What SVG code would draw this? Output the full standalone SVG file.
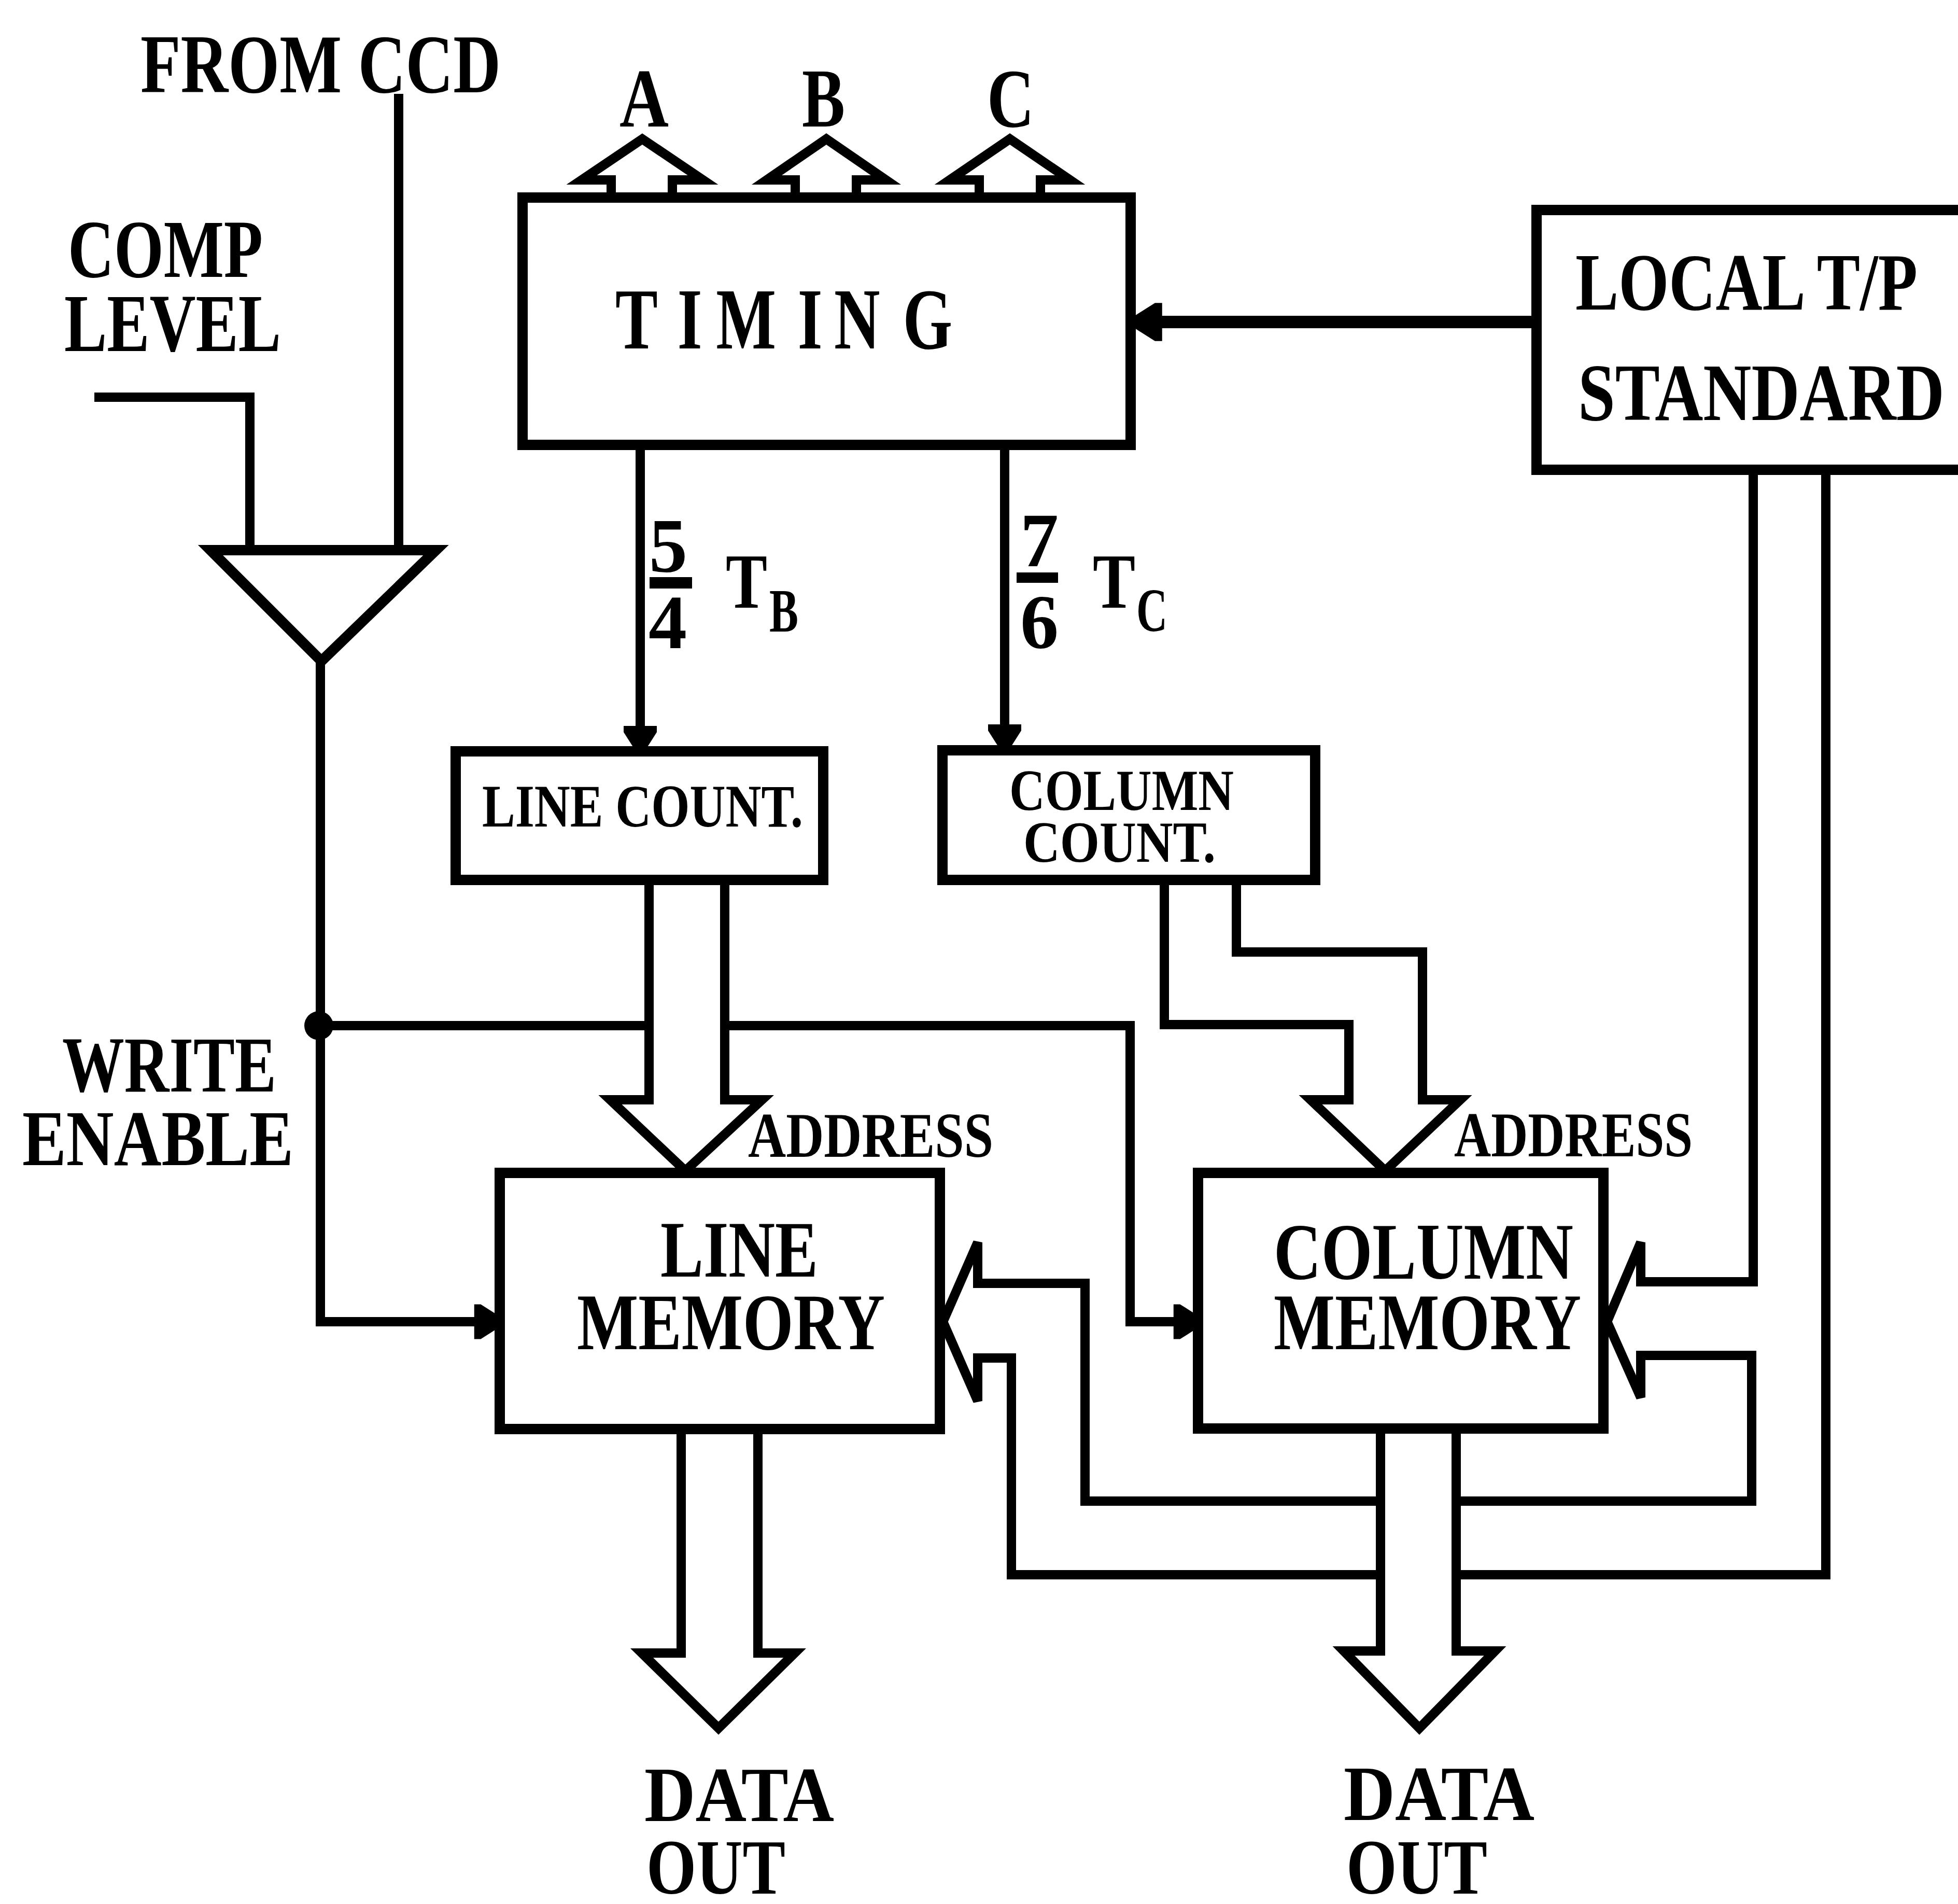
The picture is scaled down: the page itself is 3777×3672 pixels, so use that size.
<svg xmlns="http://www.w3.org/2000/svg" xmlns:xlink="http://www.w3.org/1999/xlink" width="3777" height="3672" viewBox="0 0 3777 3672">
<style>
  .box { fill: #fff; stroke: #000; stroke-width: 20; }
  .ln { fill: none; stroke: #000; stroke-width: 18; stroke-linejoin: miter; stroke-linecap: square; }
  .bus { fill: none; stroke: #000; stroke-width: 18; stroke-linejoin: miter; }
  .t { font-family: "Liberation Serif", "Times New Roman", serif; font-weight: bold; fill: #000; }
</style>
<defs>
  <path id="ahDown" d="M-32,-45 L32,-45 L32,-33 L11,0 L-11,0 L-32,-33 Z" fill="#000"/>
</defs>
<rect width="3777" height="3672" fill="#fff"/>

<g id="connectors">
  <!-- FROM CCD input -->
  <path class="ln" d="M769,190 V1061"/>
  <!-- COMP LEVEL input -->
  <path class="ln" d="M191,766 H482 V1061"/>
  <!-- write enable to line memory -->
  <path class="ln" d="M618,1275 V2549 H912"/>
  <use xlink:href="#ahDown" transform="translate(962,2549) rotate(-90) scale(1.05)"/>
  <circle cx="615" cy="1978" r="28" fill="#000"/>
  <!-- write enable branch to column memory -->
  <path class="ln" d="M618,1978 H1252"/>
  <path class="ln" d="M1398,1978 H2180 V2549 H2262"/>
  <use xlink:href="#ahDown" transform="translate(2311,2549) rotate(-90) scale(1.05)"/>
  <!-- local standard to timing -->
  <path d="M2964,621 H2235" fill="none" stroke="#000" stroke-width="24"/>
  <use xlink:href="#ahDown" transform="translate(2190,621) rotate(90) scale(1.15)"/>
  <!-- timing to counters -->
  <path class="ln" d="M1235,858 V1405"/>
  <use xlink:href="#ahDown" transform="translate(1235,1445)"/>
  <path class="ln" d="M1938,858 V1402"/>
  <use xlink:href="#ahDown" transform="translate(1938,1442)"/>
  <!-- A B C output buses -->
  <path class="bus" d="M1179,381 V347 H1122 L1239,268 L1356,347 H1297 V381"/>
  <path class="bus" d="M1534,381 V347 H1479 L1594,268 L1709,347 H1652 V381"/>
  <path class="bus" d="M1889,381 V347 H1832 L1948,268 L2064,347 H2007 V381"/>
  <!-- line count address bus -->
  <path class="bus" d="M1252,1697 V2121 H1177 L1322,2258 L1470,2121 H1398 V1697"/>
  <!-- column count address bus -->
  <path class="bus" d="M2246,1697 V1976 H2602 V2121 H2528 L2672,2258 L2817,2121 H2744 V1836 H2385 V1697"/>
  <!-- data out buses -->
  <path class="bus" d="M1314,2756 V3188 H1238 L1386,3333 L1533,3188 H1462 V2756"/>
  <path class="bus" d="M2663,2755 V3184 H2592 L2738,3333 L2884,3184 H2809 V2755"/>
  <!-- local standard bus to memories -->
  <path class="bus" d="M3522,906 V3037 H2809"/>
  <path class="bus" d="M2663,3037 H1951 V2619 H1886 V2702 L1819,2549 L1886,2396 V2475 H2093 V2895 H2663"/>
  <path class="bus" d="M2809,2895 H3379 V2614 H3165 V2695 L3100,2549 L3165,2396 V2472 H3382 V906"/>
</g>

<g id="comparator">
  <path d="M406,1061 H841 L620,1275 Z" fill="#fff" stroke="#000" stroke-width="20" stroke-linejoin="miter"/>
</g>

<g id="timing">
  <rect class="box" x="1008" y="381" width="1173" height="477"/>
  <text class="t" font-size="168" transform="translate(1187,672) scale(0.73,1)" x="0 164 266 482 578 760" y="0">TIMING</text>
  <text class="t" font-size="162" x="1195" y="244" textLength="95" lengthAdjust="spacingAndGlyphs">A</text>
  <text class="t" font-size="162" x="1547" y="244" textLength="83" lengthAdjust="spacingAndGlyphs">B</text>
  <text class="t" font-size="162" x="1904" y="244" textLength="91" lengthAdjust="spacingAndGlyphs">C</text>
</g>

<g id="local-standard">
  <path d="M3777,405 H2964 V906 H3777" fill="#fff" stroke="#000" stroke-width="20" stroke-linejoin="miter"/>
  <text class="t" font-size="157" x="3039" y="597" textLength="660" lengthAdjust="spacingAndGlyphs">LOCAL T/P</text>
  <text class="t" font-size="157" x="3044" y="810" textLength="707" lengthAdjust="spacingAndGlyphs">STANDARD</text>
</g>

<g id="line-count">
  <rect class="box" x="879" y="1449" width="709" height="248"/>
  <text class="t" font-size="116" x="930" y="1594" textLength="619" lengthAdjust="spacingAndGlyphs">LINE COUNT.</text>
</g>

<g id="column-count">
  <rect class="box" x="1818" y="1447" width="719" height="250"/>
  <text class="t" font-size="112" x="1947" y="1562" textLength="433" lengthAdjust="spacingAndGlyphs">COLUMN</text>
  <text class="t" font-size="112" x="1974" y="1662" textLength="371" lengthAdjust="spacingAndGlyphs">COUNT.</text>
</g>

<g id="line-memory">
  <rect class="box" x="964" y="2262" width="849" height="494"/>
  <text class="t" font-size="155" x="1274" y="2462" textLength="304" lengthAdjust="spacingAndGlyphs">LINE</text>
  <text class="t" font-size="155" x="1113" y="2602" textLength="594" lengthAdjust="spacingAndGlyphs">MEMORY</text>
</g>

<g id="column-memory">
  <rect class="box" x="2311" y="2262" width="782" height="493"/>
  <text class="t" font-size="155" x="2457" y="2466" textLength="578" lengthAdjust="spacingAndGlyphs">COLUMN</text>
  <text class="t" font-size="155" x="2457" y="2602" textLength="593" lengthAdjust="spacingAndGlyphs">MEMORY</text>
</g>

<g id="labels">
  <text class="t" font-size="162" x="271" y="178" textLength="695" lengthAdjust="spacingAndGlyphs">FROM CCD</text>
  <text class="t" font-size="159" x="131" y="534" textLength="376" lengthAdjust="spacingAndGlyphs">COMP</text>
  <text class="t" font-size="159" x="124" y="677" textLength="418" lengthAdjust="spacingAndGlyphs">LEVEL</text>
  <text class="t" font-size="153" x="120" y="2105" textLength="413" lengthAdjust="spacingAndGlyphs">WRITE</text>
  <text class="t" font-size="153" x="43" y="2247" textLength="523" lengthAdjust="spacingAndGlyphs">ENABLE</text>

  <text class="t" font-size="148" x="1289" y="1103" text-anchor="middle">5</text>
  <rect x="1253" y="1113" width="82" height="22" fill="#000"/>
  <text class="t" font-size="148" x="1288" y="1250" text-anchor="middle">4</text>
  <text class="t" font-size="151" x="1400" y="1172" textLength="80" lengthAdjust="spacingAndGlyphs">T</text>
  <text class="t" font-size="118" x="1484" y="1218" textLength="56" lengthAdjust="spacingAndGlyphs">B</text>

  <text class="t" font-size="148" x="2005" y="1092" text-anchor="middle">7</text>
  <rect x="1961" y="1104" width="80" height="20" fill="#000"/>
  <text class="t" font-size="148" x="2005" y="1250" text-anchor="middle">6</text>
  <text class="t" font-size="151" x="2108" y="1172" textLength="82" lengthAdjust="spacingAndGlyphs">T</text>
  <text class="t" font-size="118" x="2192" y="1217" textLength="60" lengthAdjust="spacingAndGlyphs">C</text>

  <text class="t" font-size="122" x="1443" y="2231" textLength="473" lengthAdjust="spacingAndGlyphs">ADDRESS</text>
  <text class="t" font-size="122" x="2805" y="2230" textLength="460" lengthAdjust="spacingAndGlyphs">ADDRESS</text>

  <text class="t" font-size="150" x="1243" y="3512" textLength="366" lengthAdjust="spacingAndGlyphs">DATA</text>
  <text class="t" font-size="150" x="1247" y="3652" textLength="268" lengthAdjust="spacingAndGlyphs">OUT</text>
  <text class="t" font-size="150" x="2592" y="3510" textLength="368" lengthAdjust="spacingAndGlyphs">DATA</text>
  <text class="t" font-size="150" x="2597" y="3652" textLength="272" lengthAdjust="spacingAndGlyphs">OUT</text>
</g>
</svg>
